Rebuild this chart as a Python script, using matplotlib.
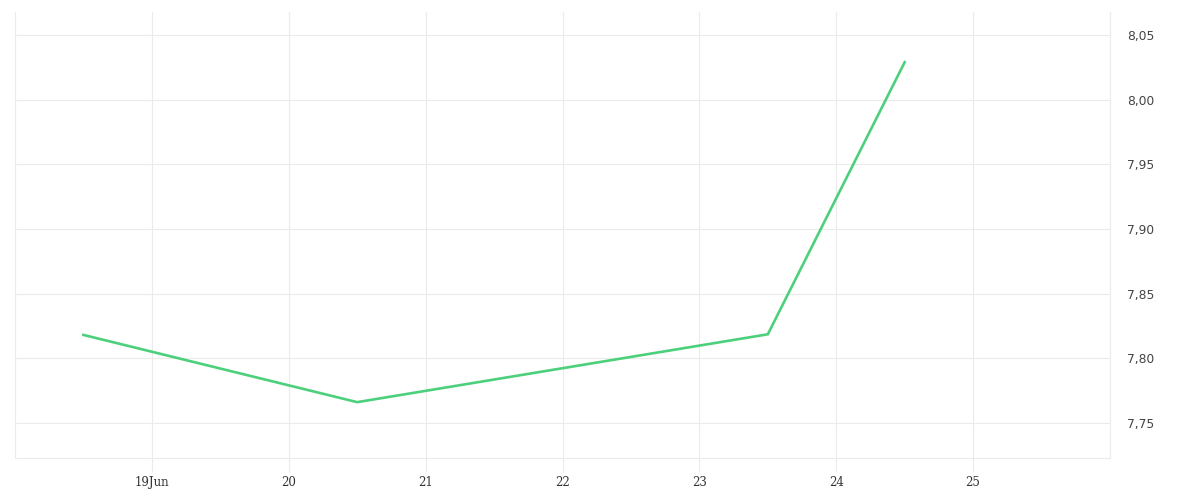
import matplotlib
matplotlib.use("Agg")
import matplotlib.pyplot as plt
import matplotlib.dates as mdates
from matplotlib.ticker import FuncFormatter, FixedLocator
import pandas as pd

dates = ["2023-06-18 12:00", "2023-06-20 12:00", "2023-06-23 12:00", "2023-06-24 12:00"]
values = [7.818, 7.766, 7.8185, 8.029]
tick_days = ["2023-06-19", "2023-06-20", "2023-06-21", "2023-06-22", "2023-06-23", "2023-06-24", "2023-06-25"]
tick_labels = ["19Jun", "20", "21", "22", "23", "24", "25"]
y_ticks = [7.75, 7.80, 7.85, 7.90, 7.95, 8.00, 8.05]

x = pd.to_datetime(dates)
xt = mdates.date2num(pd.to_datetime(tick_days).to_pydatetime())

fig = plt.figure(figsize=(12, 5), dpi=100)
ax = fig.add_axes([0.0125, 0.084, 0.9125, 0.892])
ax.plot(x, values, color="#4cd07c", linewidth=1.9, solid_joinstyle="miter")

ax.set_xlim(mdates.date2num(pd.Timestamp("2023-06-18")), mdates.date2num(pd.Timestamp("2023-06-26")))
ax.set_ylim(7.7228, 8.0678)

ax.xaxis.set_major_locator(FixedLocator(xt))
ax.set_xticklabels(tick_labels, fontfamily="DejaVu Serif", fontsize=8.5, color="#333333")
ax.yaxis.tick_right()
ax.set_yticks(y_ticks)
ax.yaxis.set_major_formatter(FuncFormatter(lambda v, p: f"{v:.2f}".replace(".", ",")))
for lab in ax.get_yticklabels():
    lab.set_fontfamily("DejaVu Sans")
    lab.set_fontsize(8.8)
    lab.set_color("#444444")

ax.grid(True, color="#ebebeb", linewidth=0.8)
ax.set_axisbelow(True)
ax.tick_params(axis="x", length=10, color="#ebebeb", width=0.8, pad=3)
ax.tick_params(axis="y", length=0, pad=12)
ax.spines["top"].set_visible(False)
for s in ["left", "right", "bottom"]:
    ax.spines[s].set_color("#ebebeb")
    ax.spines[s].set_linewidth(0.8)

fig.savefig("out.png", dpi=100, facecolor="white")
